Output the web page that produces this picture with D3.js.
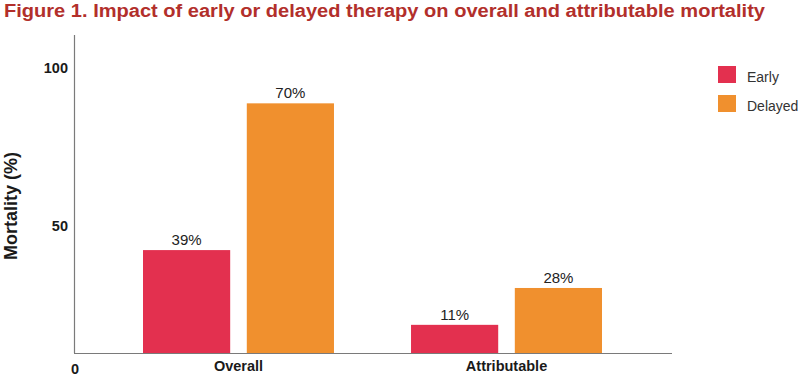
<!DOCTYPE html>
<html>
<head>
<meta charset="utf-8">
<script src="https://cdn.jsdelivr.net/npm/d3@7"></script>
<style>
  html, body { margin: 0; padding: 0; background: #fff; }
  svg { display: block; font-family: "Liberation Sans", Arial, Helvetica, sans-serif; }
</style>
</head>
<body>
<svg id="chart" width="800" height="379"></svg>
<script>
// ---- data ----
const categories = ["Overall", "Attributable"];
const seriesNames = ["Early", "Delayed"];
// printed percentages
const earlyLabels = [39, 11];
const delayedLabels = [70, 28];
// bar heights as read against the chart's axis
const earlyBars = [40.2, 11];
const delayedBars = [88.5, 25.4];
const yTicks = [0, 50, 100];
const colors = ["#e3304f", "#f0902e"];

const svg = d3.select("#chart");

// scales
const x0 = d3.scaleBand().domain(categories).range([76, 669]).paddingInner(0.2875).paddingOuter(0.25);
const x1 = d3.scaleBand().domain(seriesNames).range([0, x0.bandwidth()]).paddingInner(0.16).paddingOuter(0);
const y = d3.scaleLinear().domain([0, 50, 100]).range([353, 225, 67]);
const color = d3.scaleOrdinal().domain(seriesNames).range(colors);

// title
svg.append("text")
  .attr("x", 4).attr("y", 17)
  .attr("fill", "#b22f2b")
  .attr("font-weight", "bold")
  .attr("font-size", 18)
  .attr("textLength", 761)
  .attr("lengthAdjust", "spacingAndGlyphs")
  .text("Figure 1. Impact of early or delayed therapy on overall and attributable mortality");

// axes lines
svg.append("line").attr("x1", 74.5).attr("x2", 74.5).attr("y1", 35).attr("y2", y(0))
  .attr("stroke", "#7a7a7a").attr("stroke-width", 1.2);
svg.append("line").attr("x1", 74).attr("x2", 672).attr("y1", y(0) + 0.5).attr("y2", y(0) + 0.5)
  .attr("stroke", "#7a7a7a").attr("stroke-width", 1.2);

// y tick labels
const yAxis = d3.axisLeft(y).tickValues(yTicks).tickSize(0).tickPadding(6);
const yg = svg.append("g").attr("transform", "translate(74,0)").call(yAxis);
yg.select(".domain").remove();
yg.selectAll("text")
  .attr("font-family", "'Liberation Sans', Arial, sans-serif")
  .attr("font-size", 14.5)
  .attr("font-weight", "bold")
  .attr("fill", "#1a1a1a")
  .attr("dy", "0.36em");
yg.selectAll(".tick").filter(d => d === 0).select("text")
  .attr("text-anchor", "middle").attr("x", 1).attr("dy", "1.4em");

// y axis title
svg.append("text")
  .attr("transform", "translate(17,206) rotate(-90)")
  .attr("text-anchor", "middle")
  .attr("font-weight", "bold")
  .attr("font-size", 18)
  .attr("fill", "#1a1a1a")
  .text("Mortality (%)");

// bars
const rows = categories.map((c, i) => ({
  cat: c,
  vals: [
    { s: "Early", v: earlyBars[i], label: earlyLabels[i] },
    { s: "Delayed", v: delayedBars[i], label: delayedLabels[i] }
  ]
}));

const groups = svg.append("g").selectAll("g").data(rows).join("g")
  .attr("transform", d => `translate(${x0(d.cat)},0)`);

groups.selectAll("rect").data(d => d.vals).join("rect")
  .attr("x", d => x1(d.s))
  .attr("y", d => y(d.v))
  .attr("width", x1.bandwidth())
  .attr("height", d => y(0) - y(d.v))
  .attr("fill", d => color(d.s));

groups.selectAll("text.val").data(d => d.vals).join("text")
  .attr("class", "val")
  .attr("x", d => x1(d.s) + x1.bandwidth() / 2)
  .attr("y", d => y(d.v) - 5)
  .attr("text-anchor", "middle")
  .attr("font-size", 15)
  .attr("fill", "#222")
  .text(d => d.label + "%");

// x category labels
const xAxis = d3.axisBottom(x0).tickSize(0).tickPadding(8);
const xg = svg.append("g").attr("transform", `translate(0,${y(0)})`).call(xAxis);
xg.select(".domain").remove();
xg.selectAll("text")
  .attr("font-family", "'Liberation Sans', Arial, sans-serif")
  .attr("font-size", 14.5)
  .attr("font-weight", "bold")
  .attr("fill", "#1a1a1a");

// legend
const legend = svg.append("g").attr("transform", "translate(718,66)");
const li = legend.selectAll("g").data(seriesNames).join("g")
  .attr("transform", (d, i) => `translate(0,${i * 29})`);
li.append("rect").attr("width", 18).attr("height", 17).attr("fill", d => color(d));
li.append("text").attr("x", 29).attr("y", 16)
  .attr("font-size", 14).attr("fill", "#333").text(d => d);
</script>
</body>
</html>
